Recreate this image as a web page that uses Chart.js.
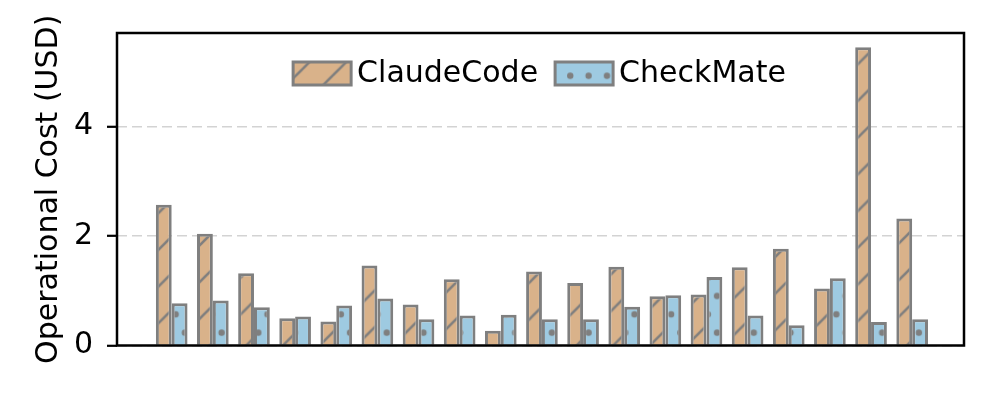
<!DOCTYPE html>
<html>
<head>
<meta charset="utf-8">
<script src="https://cdn.jsdelivr.net/npm/chart.js@4.4.1/dist/chart.umd.min.js"></script>
<style>
  html, body { margin: 0; padding: 0; background: #fff; }
</style>
</head>
<body>
<canvas id="grafica-costos" width="997" height="399"></canvas>
<script>
// tareas (sin etiquetas visibles en el eje x)
const tareas = ['T1', 'T2', 'T3', 'T4', 'T5', 'T6', 'T7', 'T8', 'T9', 'T10',
  'T11', 'T12', 'T13', 'T14', 'T15', 'T16', 'T17', 'T18', 'T19'];
const claudeCode = [2.57, 2.04, 1.32, 0.50, 0.44, 1.46, 0.75, 1.21, 0.27, 1.35,
  1.14, 1.44, 0.90, 0.93, 1.43, 1.77, 1.04, 5.45, 2.32];
const checkMate = [0.77, 0.82, 0.70, 0.53, 0.73, 0.86, 0.48, 0.55, 0.56, 0.48,
  0.48, 0.71, 0.92, 1.25, 0.55, 0.37, 1.23, 0.43, 0.48];
const ticksY = [0, 2, 4];

const fuente = 'DejaVu Sans';
const gris = '#7f7f7f';
const borde = 3;

// patron de rayas "/" para ClaudeCode
function crearRayas(fondo) {
  const t = 37;
  const c = document.createElement('canvas');
  c.width = t; c.height = t;
  const g = c.getContext('2d');
  g.fillStyle = fondo;
  g.fillRect(0, 0, t, t);
  g.strokeStyle = gris;
  g.lineWidth = 2.6;
  g.beginPath();
  g.moveTo(-2, t + 2); g.lineTo(t + 2, -2);
  g.moveTo(-3, 3); g.lineTo(3, -3);
  g.moveTo(t - 3, t + 3); g.lineTo(t + 3, t - 3);
  g.stroke();
  const p = g.createPattern(c, 'repeat');
  p.setTransform(new DOMMatrix().translate(4.5, 0).scale(36.7 / t));
  return p;
}

// patron de puntos "." para CheckMate
function crearPuntos(fondo) {
  const t = 37;
  const c = document.createElement('canvas');
  c.width = t; c.height = t;
  const g = c.getContext('2d');
  g.fillStyle = fondo;
  g.fillRect(0, 0, t, t);
  g.fillStyle = gris;
  const puntos = [[0, 0], [t / 2, 0], [t, 0], [0, t], [t / 2, t], [t, t], [t / 4, t / 2], [3 * t / 4, t / 2]];
  puntos.forEach(([x, y]) => {
    g.beginPath();
    g.arc(x, y, 3.2, 0, Math.PI * 2);
    g.fill();
  });
  const p = g.createPattern(c, 'repeat');
  p.setTransform(new DOMMatrix().translate(10.55, 20.7).scale(36.7 / t));
  return p;
}

// marco negro alrededor del area del grafico
const marco = {
  id: 'marco',
  afterDraw(chart) {
    const { ctx, chartArea: a } = chart;
    ctx.save();
    ctx.strokeStyle = '#000';
    ctx.lineWidth = 2.5;
    ctx.strokeRect(a.left, a.top, a.right - a.left, a.bottom - a.top);
    ctx.restore();
  }
};

// leyenda horizontal dentro del area del grafico
const leyenda = {
  id: 'leyenda',
  afterDatasetsDraw(chart) {
    const { ctx, chartArea: a } = chart;
    const cajaW = 58, cajaH = 23, sep = 6, hueco = 17, yCentro = 73.5;
    ctx.save();
    ctx.font = '30px ' + fuente;
    ctx.textBaseline = 'middle';
    const items = chart.data.datasets.map(ds => ({ ds, w: ctx.measureText(ds.label).width }));
    const total = items.reduce((s, it) => s + cajaW + sep + it.w, 0) + hueco * (items.length - 1);
    let x = (a.left + a.right) / 2 - total / 2 - 1;
    items.forEach(({ ds, w }) => {
      ctx.fillStyle = ds.backgroundColor;
      ctx.fillRect(x, yCentro - cajaH / 2, cajaW, cajaH);
      ctx.strokeStyle = ds.borderColor;
      ctx.lineWidth = borde;
      ctx.strokeRect(x, yCentro - cajaH / 2, cajaW, cajaH);
      ctx.fillStyle = '#000';
      ctx.fillText(ds.label, x + cajaW + sep, yCentro + 1);
      x += cajaW + sep + w + hueco;
    });
    ctx.restore();
  }
};

const ctx = document.getElementById('grafica-costos').getContext('2d');
new Chart(ctx, {
  type: 'bar',
  data: {
    datasets: [{
      label: 'ClaudeCode',
      data: claudeCode.map((v, i) => ({ x: i, y: v, tarea: tareas[i] })),
      backgroundColor: crearRayas('#d9b28a'),
      borderColor: gris,
      borderWidth: borde,
      categoryPercentage: 0.77,
      barPercentage: 1
    }, {
      label: 'CheckMate',
      data: checkMate.map((v, i) => ({ x: i, y: v, tarea: tareas[i] })),
      backgroundColor: crearPuntos('#9ecae1'),
      borderColor: gris,
      borderWidth: borde,
      categoryPercentage: 0.77,
      barPercentage: 1
    }]
  },
  options: {
    responsive: false,
    devicePixelRatio: 1,
    animation: false,
    events: [],
    layout: {
      padding: { top: 33, right: 33, bottom: 53.5, left: 0 }
    },
    scales: {
      x: {
        type: 'linear',
        display: false,
        offset: false,
        min: -1.33,
        max: 19.26
      },
      y: {
        min: 0,
        max: 5.71,
        afterFit: (scale) => { scale.width = 117; },
        afterBuildTicks: (scale) => { scale.ticks = ticksY.map(v => ({ value: v })); },
        ticks: {
          padding: 14,
          color: '#000',
          font: { family: fuente, size: 30 }
        },
        grid: {
          color: '#d3d3d3',
          lineWidth: 1.6,
          tickColor: '#000',
          tickWidth: 2.2,
          tickLength: 10,
          tickBorderDash: []
        },
        border: {
          display: false,
          dash: [10, 5]
        },
        title: {
          display: true,
          text: 'Operational Cost (USD)',
          color: '#000',
          font: { family: fuente, size: 30 },
          padding: { top: 31, bottom: 0 }
        }
      }
    },
    plugins: {
      tooltip: { enabled: false },
      legend: { display: false }
    }
  },
  plugins: [marco, leyenda]
});
</script>
</body>
</html>
